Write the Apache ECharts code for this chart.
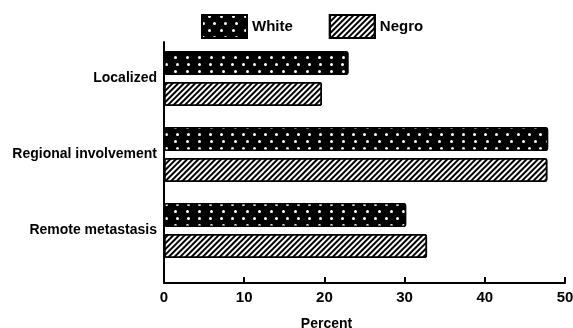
<!DOCTYPE html>
<html>
<head>
<meta charset="utf-8">
<script src="https://cdn.jsdelivr.net/npm/echarts@6/dist/echarts.min.js"></script>
<style>
  html, body { margin: 0; padding: 0; background: #fff; }
  #chart { width: 573px; height: 328px; }
</style>
</head>
<body>
<div id="chart"></div>
<script>
const categories = ['Localized', 'Regional involvement', 'Remote metastasis'];
const whiteValues = [23, 47.9, 30.2];
const negroValues = [19.7, 47.8, 32.8];
const xTicks = [0, 10, 20, 30, 40, 50];

const font = '"Liberation Sans", Arial, sans-serif';

// dotted black fill
const dotDecal = {
  symbol: 'circle',
  color: '#fff',
  symbolSize: 1,
  dashArrayX: [[3, 8], [0, 5.5, 3, 2.5]],
  dashArrayY: [3, 3.2],
  rotation: 0
};

// diagonal hatching
const hatchDecal = {
  symbol: 'rect',
  color: '#000',
  symbolSize: 1,
  dashArrayX: [1, 0],
  dashArrayY: [1.1, 1.3],
  rotation: -Math.PI / 4
};

const chart = echarts.init(document.getElementById('chart'), null, { renderer: 'canvas' });

chart.setOption({
  animation: false,
  backgroundColor: '#fff',
  aria: { enabled: false },
  legend: {
    left: 196,
    top: 9,
    icon: 'rect',
    itemWidth: 45,
    itemHeight: 23,
    itemGap: 36,
    textStyle: { fontFamily: font, fontWeight: 'bold', fontSize: 15, color: '#000' },
    data: ['White', 'Negro']
  },
  grid: [
    // axis frame
    { left: 164, right: 8, top: 42, bottom: 45, outerBoundsMode: 'none', containLabel: false },
    // bars
    { left: 164, right: 8, top: 40.5, bottom: 59.5, outerBoundsMode: 'none', containLabel: false }
  ],
  xAxis: [
    {
      gridIndex: 0,
      type: 'value',
      min: 0,
      max: 50,
      interval: 10,
      splitLine: { show: false },
      axisLine: { show: true, lineStyle: { color: '#000', width: 2 } },
      axisTick: { show: true, inside: true, length: 6, lineStyle: { color: '#000', width: 2 } },
      axisLabel: {
        margin: 7,
        fontFamily: font, fontWeight: 'bold', fontSize: 15, color: '#000',
        formatter: v => xTicks.includes(v) ? String(v) : ''
      },
      name: 'Percent',
      nameLocation: 'middle',
      nameGap: 34,
      nameTextStyle: {
        fontFamily: font, fontWeight: 'bold', fontSize: 14, color: '#000',
        padding: [0, 76, 0, 0]
      }
    },
    {
      gridIndex: 1,
      type: 'value',
      min: 0,
      max: 50,
      show: false
    }
  ],
  yAxis: [
    {
      gridIndex: 0,
      type: 'value',
      min: 0,
      max: 1,
      splitLine: { show: false },
      axisLine: { show: true, lineStyle: { color: '#000', width: 2 } },
      axisTick: { show: false },
      axisLabel: { show: false }
    },
    {
      gridIndex: 1,
      type: 'category',
      inverse: true,
      data: categories,
      axisLine: { show: false },
      axisTick: { show: false },
      axisLabel: {
        margin: 7,
        fontFamily: font, fontWeight: 'bold', fontSize: 14, color: '#000'
      }
    }
  ],
  series: [
    {
      name: 'White',
      type: 'bar',
      xAxisIndex: 1,
      yAxisIndex: 1,
      barWidth: 24,
      barGap: '30%',
      data: whiteValues,
      itemStyle: {
        color: '#000',
        borderColor: '#000',
        borderWidth: 1.5,
        borderRadius: 2,
        decal: dotDecal
      }
    },
    {
      name: 'Negro',
      type: 'bar',
      xAxisIndex: 1,
      yAxisIndex: 1,
      barWidth: 24,
      barGap: '30%',
      data: negroValues,
      itemStyle: {
        color: '#fff',
        borderColor: '#000',
        borderWidth: 1.5,
        borderRadius: 2,
        decal: hatchDecal
      }
    }
  ]
});
</script>
</body>
</html>
